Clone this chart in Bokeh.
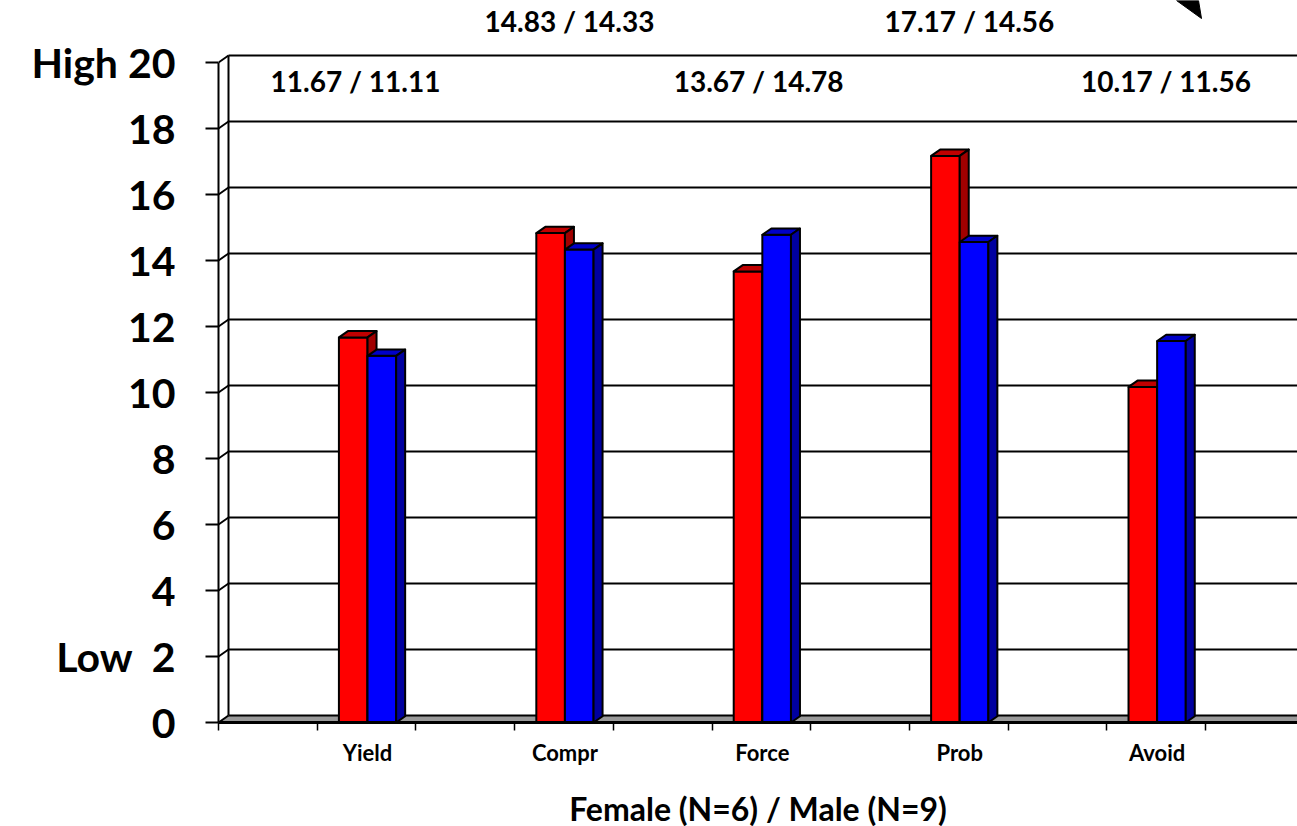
from bokeh.plotting import figure
from bokeh.models import Range1d, FixedTicker
from bokeh.core.properties import value
from bokeh.embed import file_html
from bokeh.resources import INLINE

# ---- data -------------------------------------------------------------
categories = ["Yield", "Compr", "Force", "Prob", "Avoid"]
female = [11.67, 14.83, 13.67, 17.17, 10.17]
male = [11.11, 14.33, 14.78, 14.56, 11.56]
y_ticks = [0, 2, 4, 6, 8, 10, 12, 14, 16, 18, 20]
y_tick_labels = {20: "High\u00a020", 2: "Low\u00a0\u00a02"}
x_title = "Female (N=6) / Male (N=9)"

# ---- layout / style constants ----------------------------------------
FONT = "Lato"
PX_X = 197.4          # pixels per category
PX_Y = 33.0           # pixels per score unit
FRAME_W, FRAME_H = 1079, 722
X0 = -0.755           # left wall (front edge) in category units
X1 = X0 + FRAME_W / PX_X
Y_TOP = FRAME_H / PX_Y
WALL_DX, WALL_DY = 10 / PX_X, 7 / PX_Y      # depth of the back wall
BAR_DX, BAR_DY = 9 / PX_X, 6.3 / PX_Y       # depth of each bar
BAR_W = 0.145

RED, RED_TOP, RED_SIDE = "#FF0000", "#C00000", "#A00000"
BLUE, BLUE_TOP, BLUE_SIDE = "#0000FF", "#0000C8", "#0000A0"

p = figure(frame_width=FRAME_W, frame_height=FRAME_H,
           min_border_left=218, min_border_bottom=826 - FRAME_H,
           min_border_top=0, min_border_right=0,
           x_range=Range1d(X0, X1), y_range=Range1d(0, Y_TOP),
           output_backend="svg", toolbar_location=None)
p.outline_line_color = None
p.xgrid.visible = False
p.ygrid.visible = False
p.background_fill_color = "white"

# ---- floor ---------------------------------------------------------
p.patch([X0, X1, X1, X0 + WALL_DX], [0, 0, WALL_DY, WALL_DY],
        fill_color="#999999", line_color=None)

# ---- back wall gridlines + side-wall diagonals ----------------------
p.segment(x0=[X0 + WALL_DX] * len(y_ticks), y0=[t + WALL_DY for t in y_ticks],
          x1=[X1] * len(y_ticks), y1=[t + WALL_DY for t in y_ticks],
          line_color="black", line_width=2)
p.segment(x0=[X0] * len(y_ticks), y0=y_ticks,
          x1=[X0 + WALL_DX] * len(y_ticks), y1=[t + WALL_DY for t in y_ticks],
          line_color="black", line_width=2)
p.segment(x0=[X0 + WALL_DX], y0=[WALL_DY], x1=[X0 + WALL_DX], y1=[y_ticks[-1] + WALL_DY],
          line_color="black", line_width=2)


# ---- 3D bars ---------------------------------------------------------
def bars(lefts, rights, vals, front, top, side):
    p.quad(left=lefts, right=rights, bottom=0, top=vals,
           fill_color=front, line_color="black", line_width=2)
    p.patches(xs=[[l, r, r + BAR_DX, l + BAR_DX] for l, r in zip(lefts, rights)],
              ys=[[v, v, v + BAR_DY, v + BAR_DY] for v in vals],
              fill_color=top, line_color="black", line_width=2, line_join="round")
    p.patches(xs=[[r, r + BAR_DX, r + BAR_DX, r] for r in rights],
              ys=[[0, BAR_DY, v + BAR_DY, v] for v in vals],
              fill_color=side, line_color="black", line_width=2, line_join="round")


idx = list(range(len(categories)))
bars([i - BAR_W for i in idx], [float(i) for i in idx], female, RED, RED_TOP, RED_SIDE)
bars([float(i) for i in idx], [i + BAR_W for i in idx], male, BLUE, BLUE_TOP, BLUE_SIDE)

# ---- value labels across the top ---------------------------------------
label_dx = [-0.061, 0.023, -0.019, 0.049, 0.045]
label_y = [19.45, 21.27, 19.45, 21.27, 19.45]
p.text(x=[i + d for i, d in zip(idx, label_dx)], y=label_y,
       text=[f"{f:.2f} / {m:.2f}" for f, m in zip(female, male)],
       text_font=value(FONT), text_font_style="bold", text_font_size=value("28px"),
       text_align="center", text_baseline="middle", text_color="black")

# ---- decorative arrow tip, top right --------------------------------
p.patch([X0 + (1176 - 218) / PX_X, X0 + (1198 - 218) / PX_X, X0 + (1201 - 218) / PX_X],
        [Y_TOP, Y_TOP, (722 - 18) / PX_Y],
        fill_color="black", line_color="black", line_width=1)

# ---- axes -------------------------------------------------------------
ya = p.yaxis[0]
ya.ticker = FixedTicker(ticks=y_ticks)
ya.major_label_overrides = y_tick_labels
ya.bounds = (0, 20)
ya.axis_line_width = 2
ya.major_tick_line_width = 2
ya.major_tick_out = 13
ya.major_tick_in = 0
ya.minor_tick_line_color = None
ya.major_label_standoff = 30
ya.major_label_text_font = FONT
ya.major_label_text_font_style = "bold"
ya.major_label_text_font_size = "41px"
ya.major_label_text_color = "black"

xa = p.xaxis[0]
xa.ticker = FixedTicker(ticks=idx, minor_ticks=[X0 + 0.5 * k for k in range(12)])
xa.major_label_overrides = {i: c for i, c in zip(idx, categories)}
xa.axis_line_width = 3
xa.major_tick_out = 0
xa.major_tick_in = 0
xa.minor_tick_out = 8
xa.minor_tick_in = 0
xa.minor_tick_line_width = 1.5
xa.major_label_standoff = 8
xa.major_label_text_font = FONT
xa.major_label_text_font_style = "bold"
xa.major_label_text_font_size = "22px"
xa.major_label_text_color = "black"
xa.axis_label = x_title
xa.axis_label_standoff = 20
xa.axis_label_text_font = FONT
xa.axis_label_text_font_style = "bold"
xa.axis_label_text_font_size = "32px"
xa.axis_label_text_color = "black"

open("out.html", "w").write(file_html(p, INLINE))
